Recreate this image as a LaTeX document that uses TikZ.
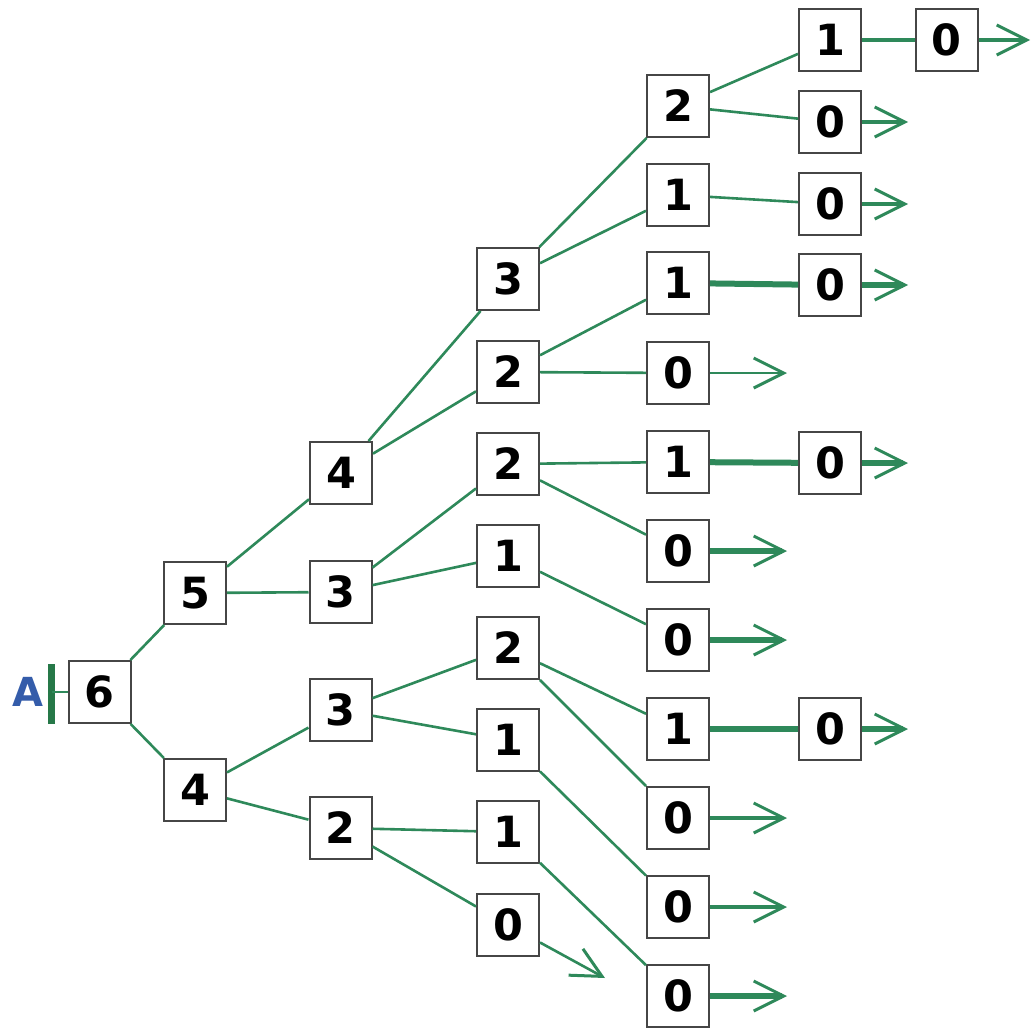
\documentclass[tikz,border=0pt]{standalone}
\usepackage{fontspec}
\setmainfont{DejaVu Sans}
\usetikzlibrary{arrows.meta}
\definecolor{edgegreen}{RGB}{46,137,90}
\definecolor{bargreen}{RGB}{38,120,72}
\definecolor{labelblue}{RGB}{52,92,170}
\definecolor{boxgray}{RGB}{70,70,70}
\tikzset{
  val/.style={draw=boxgray, line width=2pt, fill=white, minimum size=62pt, inner sep=0pt,
    font=\fontsize{43}{48}\selectfont\bfseries, text=black},
  ed/.style={draw=edgegreen, line width=2.6pt},
  edm/.style={draw=edgegreen, line width=3.6pt},
  edt/.style={draw=edgegreen, line width=6pt},
  tip/.style={-{Straight Barb[length=30pt, width=30pt, line width=3pt]}},
}
\begin{document}
\begin{tikzpicture}[x=1pt, y=-1pt]
\useasboundingbox (0,0) rectangle (1031,1028);
% column 0-2
\node[val] (n6) at (99.5,692) {6};
\node[val] (n5) at (195,593) {5};
\node[val] (n4b) at (195,790) {4};
\node[val] (n4) at (341,473) {4};
\node[val] (n3a) at (340.5,592) {3};
\node[val] (n3b) at (340.5,710) {3};
\node[val] (n2a) at (340.5,828) {2};
% column 3
\node[val] (c33) at (508,279) {3};
\node[val] (c32a) at (508,372) {2};
\node[val] (c32b) at (508,464) {2};
\node[val] (c31a) at (508,556) {1};
\node[val] (c32c) at (508,648) {2};
\node[val] (c31b) at (508,740) {1};
\node[val] (c31c) at (508,832) {1};
\node[val] (c30) at (508,925) {0};
% column 4
\node[val] (d2) at (678,106) {2};
\node[val] (d1a) at (678,195) {1};
\node[val] (d1b) at (678,283) {1};
\node[val] (d0a) at (678,373) {0};
\node[val] (d1c) at (678,462) {1};
\node[val] (d0b) at (678,551) {0};
\node[val] (d0c) at (678,640) {0};
\node[val] (d1d) at (678,729) {1};
\node[val] (d0d) at (678,818) {0};
\node[val] (d0e) at (678,907) {0};
\node[val] (d0f) at (678,996) {0};
% column 5
\node[val] (e1) at (830,40) {1};
\node[val] (e0a) at (830,122) {0};
\node[val] (e0b) at (830,204) {0};
\node[val] (e0c) at (830,285) {0};
\node[val] (e0d) at (830,463) {0};
\node[val] (e0e) at (830,729) {0};
% column 6
\node[val] (f0) at (946.5,40) {0};
% start marker
\node[font=\fontsize{40}{44}\selectfont\bfseries, text=labelblue, inner sep=0pt] (A) at (28,692) {A};
\coordinate (bt) at (51.5,664);
\coordinate (bb) at (51.5,724);
\coordinate (bm) at (51.5,692);
\draw[draw=bargreen, line width=7pt] (bt) -- (bb);
\draw[ed] (bm) -- (n6);
% edges
\draw[ed] (n6) -- (n5);
\draw[ed] (n6) -- (n4b);
\draw[ed] (n5) -- (n4);
\draw[ed] (n5) -- (n3a);
\draw[ed] (n4b) -- (n3b);
\draw[ed] (n4b) -- (n2a);
\draw[ed] (n4) -- (c33);
\draw[ed] (n4) -- (c32a);
\draw[ed] (n3a) -- (c32b);
\draw[ed] (n3a) -- (c31a);
\draw[ed] (n3b) -- (c32c);
\draw[ed] (n3b) -- (c31b);
\draw[ed] (n2a) -- (c31c);
\draw[ed] (n2a) -- (c30);
\draw[ed] (c33) -- (d2);
\draw[ed] (c33) -- (d1a);
\draw[ed] (c32a) -- (d1b);
\draw[ed] (c32a) -- (d0a);
\draw[ed] (c32b) -- (d1c);
\draw[ed] (c32b) -- (d0b);
\draw[ed] (c31a) -- (d0c);
\draw[ed] (c32c) -- (d1d);
\draw[ed] (c32c) -- (d0d);
\draw[ed] (c31b) -- (d0e);
\draw[ed] (c31c) -- (d0f);
\draw[ed] (d2) -- (e1);
\draw[ed] (d2) -- (e0a);
\draw[ed] (d1a) -- (e0b);
\draw[edt] (d1b) -- (e0c);
\draw[edt] (d1c) -- (e0d);
\draw[edt] (d1d) -- (e0e);
\draw[edm] (e1) -- (f0);
% arrow ends
\coordinate (tf0) at (1030,40);
\coordinate (te0a) at (908,122);
\coordinate (te0b) at (908,204);
\coordinate (te0c) at (908,285);
\coordinate (te0d) at (908,463);
\coordinate (te0e) at (908,729);
\coordinate (td0a) at (787,373);
\coordinate (td0b) at (787,551);
\coordinate (td0c) at (787,640);
\coordinate (td0d) at (787,818);
\coordinate (td0e) at (787,907);
\coordinate (td0f) at (787,996);
\coordinate (tc30) at (605,978);
\draw[edm, tip] (f0) -- (tf0);
\draw[edm, tip] (e0a) -- (te0a);
\draw[edm, tip] (e0b) -- (te0b);
\draw[edt, tip] (e0c) -- (te0c);
\draw[edt, tip] (e0d) -- (te0d);
\draw[edt, tip] (e0e) -- (te0e);
\draw[ed, tip] (d0a) -- (td0a);
\draw[edt, tip] (d0b) -- (td0b);
\draw[edt, tip] (d0c) -- (td0c);
\draw[edm, tip] (d0d) -- (td0d);
\draw[edm, tip] (d0e) -- (td0e);
\draw[edt, tip] (d0f) -- (td0f);
\draw[ed, tip] (c30) -- (tc30);
\end{tikzpicture}
\end{document}
